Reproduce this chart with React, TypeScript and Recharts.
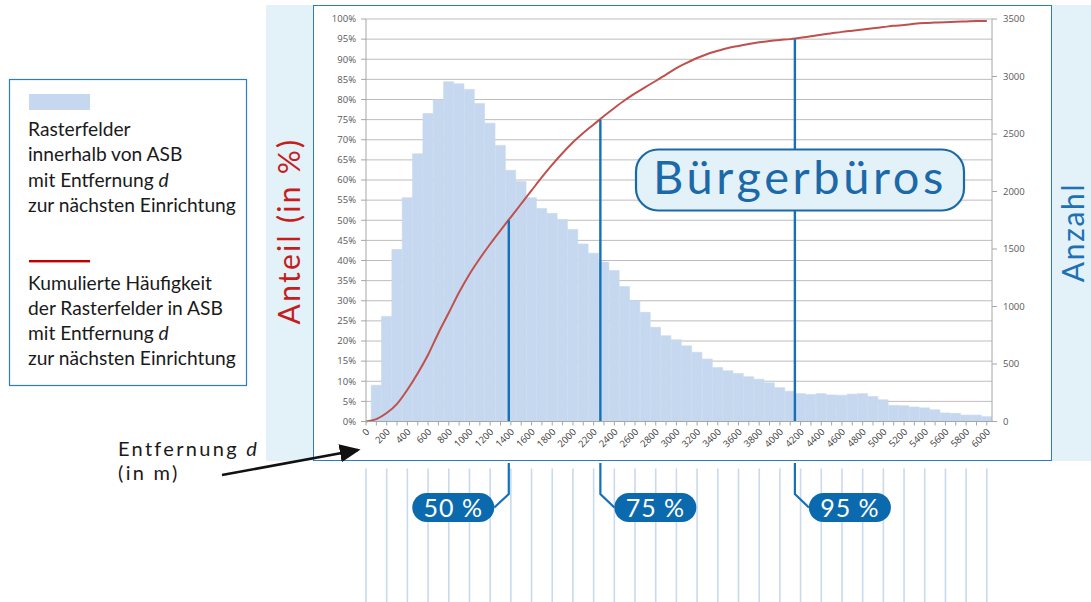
import React from 'react';
import { ComposedChart, Bar, Line, XAxis, YAxis, CartesianGrid, ReferenceLine } from 'recharts';

// Distance classes (m)
const distances = [
  0, 100, 200, 300, 400, 500, 600, 700, 800, 900,
  1000, 1100, 1200, 1300, 1400, 1500, 1600, 1700, 1800, 1900,
  2000, 2100, 2200, 2300, 2400, 2500, 2600, 2700, 2800, 2900,
  3000, 3100, 3200, 3300, 3400, 3500, 3600, 3700, 3800, 3900,
  4000, 4100, 4200, 4300, 4400, 4500, 4600, 4700, 4800, 4900,
  5000, 5100, 5200, 5300, 5400, 5500, 5600, 5700, 5800, 5900,
  6000,
];

// Number of raster cells per distance class (right axis)
const counts: (number | null)[] = [
  null, 315, 914, 1495, 1946, 2328, 2678, 2797, 2954, 2937,
  2888, 2765, 2594, 2401, 2184, 2086, 1946, 1852, 1810, 1757,
  1670, 1544, 1463, 1386, 1313, 1173, 1050, 949, 819, 746,
  711, 658, 602, 543, 469, 441, 417, 389, 368, 336,
  294, 263, 242, 235, 242, 231, 228, 238, 242, 217,
  189, 140, 137, 126, 119, 102, 74, 70, 56, 56,
  42,
];

// Cumulative share in % (left axis)
const cumulative = [
  0, 0.6, 2.1, 4.4, 7.9, 12.0, 16.6, 22.0, 27.0, 32.1,
  36.6, 40.5, 44.1, 47.5, 50.8, 54.1, 57.4, 60.7, 63.8, 66.7,
  69.4, 71.7, 73.8, 75.9, 77.9, 79.8, 81.5, 83.1, 84.6, 86.2,
  87.8, 89.1, 90.3, 91.3, 92.1, 92.8, 93.3, 93.8, 94.2, 94.55,
  94.8, 95.0, 95.35, 95.7, 96.1, 96.45, 96.8, 97.1, 97.4, 97.7,
  98.0, 98.3, 98.5, 98.8, 99.0, 99.1, 99.2, 99.3, 99.4, 99.5,
  99.5,
];

const percentTicks = [0, 5, 10, 15, 20, 25, 30, 35, 40, 45, 50, 55, 60, 65, 70, 75, 80, 85, 90, 95, 100];
const countTicks = [0, 500, 1000, 1500, 2000, 2500, 3000, 3500];

const quantileLevels = [50, 75, 95];
const quantileDistances = [1380, 2265, 4145];

const legendBarLines = ['Rasterfelder', 'innerhalb von ASB', 'mit Entfernung ', 'zur nächsten Einrichtung'];
const legendLineLines = ['Kumulierte Häufigkeit', 'der Rasterfelder in ASB', 'mit Entfernung ', 'zur nächsten Einrichtung'];

const data = distances.map((d, i) => ({ d, count: counts[i], cum: cumulative[i] }));

const BLUE = '#1570b8';
const TICK_FONT = 'Open Sans, DejaVu Sans, sans-serif';
const LABEL_FONT = 'Lato, Open Sans, sans-serif';

const DistanceTick = (props: any) => {
  const { x, y, payload } = props;
  const v = payload.value;
  if (v % 200 !== 0) return <g />;
  const ax = x + 4;
  const ay = y + 5;
  return (
    <g>
      <line x1={x} x2={x} y1={y + 41} y2={y + 190} stroke="#c9daee" strokeWidth={1.6} />
      <text
        x={ax}
        y={ay}
        textAnchor="end"
        transform={`rotate(-45 ${ax} ${ay})`}
        fontSize={9.5}
        fill="#404040"
        fontFamily={TICK_FONT}
      >
        {v}
      </text>
    </g>
  );
};

// connector + pill below the chart for each quantile; y is the chart box bottom
const PillTick = (props: any) => {
  const { x, y, index } = props;
  const level = quantileLevels[index];
  const w = 82;
  const h = 29;
  const top = y + 31.5;
  const left = level === 50;
  const edge = left ? x - 14.5 : x + 14;
  const rx0 = left ? edge - w : edge;
  return (
    <g>
      <path d={`M${x},${y + 1.5} V${y + 32.5} L${edge},${top + h / 2}`} stroke={BLUE} strokeWidth={2.2} fill="none" />
      <rect x={rx0} y={top} width={w} height={h} rx={h / 2} fill="#0b6aad" />
      <text
        x={rx0 + w / 2}
        y={top + h / 2 + 9}
        textAnchor="middle"
        fill="#ffffff"
        fontSize={25}
        fontFamily={LABEL_FONT}
        letterSpacing={1}
      >
        {level} %
      </text>
    </g>
  );
};

export default function App() {
  return (
    <div style={{ position: 'absolute', left: 0, top: 0, width: 1091, height: 602, background: '#ffffff', overflow: 'hidden' }}>
      {/* background panels */}
      <div style={{ position: 'absolute', left: 266, top: 5, width: 825, height: 456, background: '#e3f1f8' }} />
      <div
        style={{
          position: 'absolute',
          left: 312.5,
          top: 5,
          width: 739,
          height: 456,
          background: '#ffffff',
          border: '1.5px solid #2e7cc0',
          boxSizing: 'border-box',
        }}
      />

      {/* chart */}
      <div style={{ position: 'absolute', left: 0, top: 0, zIndex: 1 }}>
        <ComposedChart
          width={1091}
          height={602}
          data={data}
          margin={{ top: 19, right: 54, bottom: 139.5, left: 316 }}
          barCategoryGap={0}
          barGap={0}
        >
          <CartesianGrid yAxisId="left" horizontal vertical={false} stroke="#bdbdbd" strokeWidth={1} />
          <XAxis
            dataKey="d"
            type="number"
            domain={[0, 6050]}
            ticks={distances}
            interval={0}
            tickSize={4}
            tickMargin={2}
            height={40}
            tick={<DistanceTick />}
            tickLine={{ stroke: '#a6a6a6' }}
            axisLine={{ stroke: '#a6a6a6' }}
          />
          <XAxis
            xAxisId="q"
            dataKey="d"
            type="number"
            domain={[0, 6050]}
            ticks={quantileDistances}
            interval={0}
            height={1}
            tickSize={0}
            tickMargin={0}
            axisLine={false}
            tickLine={false}
            tick={<PillTick />}
          />
          <YAxis
            yAxisId="left"
            orientation="left"
            domain={[0, 100]}
            ticks={percentTicks}
            interval={0}
            width={50}
            tickSize={5}
            tickMargin={5}
            tickFormatter={(v: number) => `${v}%`}
            tick={{ fontSize: 9.5, fill: '#595959', fontFamily: TICK_FONT }}
            tickLine={{ stroke: '#a6a6a6' }}
            axisLine={{ stroke: '#a6a6a6' }}
          />
          <YAxis
            yAxisId="right"
            orientation="right"
            domain={[0, 3500]}
            ticks={countTicks}
            interval={0}
            width={45}
            tickSize={5}
            tickMargin={6}
            tick={{ fontSize: 9.5, fill: '#595959', fontFamily: TICK_FONT, textAnchor: 'start' }}
            tickLine={{ stroke: '#a6a6a6' }}
            axisLine={{ stroke: '#a6a6a6' }}
          />
          <Bar
            yAxisId="right"
            dataKey="count"
            fill="#c6d8ef"
            stroke="#c6d8ef"
            strokeWidth={0.6}
            isAnimationActive={false}
          />
          <Line
            yAxisId="left"
            dataKey="cum"
            type="monotone"
            stroke="#c0504d"
            strokeWidth={2}
            dot={false}
            activeDot={false}
            isAnimationActive={false}
          />
          {quantileLevels.map((p, i) => (
            <ReferenceLine
              key={p}
              yAxisId="left"
              segment={[
                { x: quantileDistances[i], y: 0 },
                { x: quantileDistances[i], y: p },
              ]}
              stroke={BLUE}
              strokeWidth={2.4}
            />
          ))}
        </ComposedChart>
      </div>

      {/* annotations */}
      <svg
        width={1091}
        height={602}
        style={{ position: 'absolute', left: 0, top: 0, zIndex: 2, pointerEvents: 'none' }}
      >
        <defs>
          <marker id="arrowHead" markerWidth="8" markerHeight="7" refX="7" refY="3.5" orient="auto" markerUnits="strokeWidth">
            <path d="M0,0 L8,3.5 L0,7 Z" fill="#111111" />
          </marker>
        </defs>

        {/* legend box */}
        <rect x={9.5} y={79.5} width={237} height={306} fill="#ffffff" stroke="#2e7cc0" strokeWidth={1.2} />
        <rect x={29} y={94} width={61} height={16} fill="#c6d8ef" />
        {legendBarLines.map((t, i) => (
          <text key={'a' + i} x={28} y={136 + i * 25.4} fontSize={19.2} fontFamily={LABEL_FONT} fill="#1a1a1a">
            {t}
            {i === 2 ? <tspan fontStyle="italic">d</tspan> : null}
          </text>
        ))}
        <rect x={29} y={260} width={61} height={2.4} fill="#c00000" />
        {legendLineLines.map((t, i) => (
          <text key={'b' + i} x={28} y={289.5 + i * 25.2} fontSize={19.2} fontFamily={LABEL_FONT} fill="#1a1a1a">
            {t}
            {i === 2 ? <tspan fontStyle="italic">d</tspan> : null}
          </text>
        ))}

        {/* axis titles */}
        <text
          transform="translate(300,231) rotate(-90)"
          textAnchor="middle"
          fontSize={30}
          fontFamily={LABEL_FONT}
          fill="#c41e1e"
          letterSpacing={2.3}
        >
          Anteil (in %)
        </text>
        <text
          transform="translate(1083.5,232.5) rotate(-90)"
          textAnchor="middle"
          fontSize={30}
          fontFamily={LABEL_FONT}
          fill="#1f70b5"
          letterSpacing={1.7}
        >
          Anzahl
        </text>

        {/* title box */}
        <rect x={636} y={149.5} width={328} height={61} rx={22} fill="#e3f1f8" stroke="#1b6aa6" strokeWidth={2.2} />
        <text x={800} y={194} textAnchor="middle" fontSize={47} fontFamily={LABEL_FONT} fill="#1b69a8" letterSpacing={3.6}>
          Bürgerbüros
        </text>

        {/* x-axis title with arrow */}
        <text x={118} y={456} fontSize={20} fontFamily={LABEL_FONT} fill="#1a1a1a" letterSpacing={2.3}>
          Entfernung <tspan fontStyle="italic">d</tspan>
        </text>
        <text x={118} y={480} fontSize={20} fontFamily={LABEL_FONT} fill="#1a1a1a" letterSpacing={2.3}>
          (in m)
        </text>
        <line x1={222} y1={475} x2={358} y2={450} stroke="#111111" strokeWidth={2.6} markerEnd="url(#arrowHead)" />
      </svg>
    </div>
  );
}
